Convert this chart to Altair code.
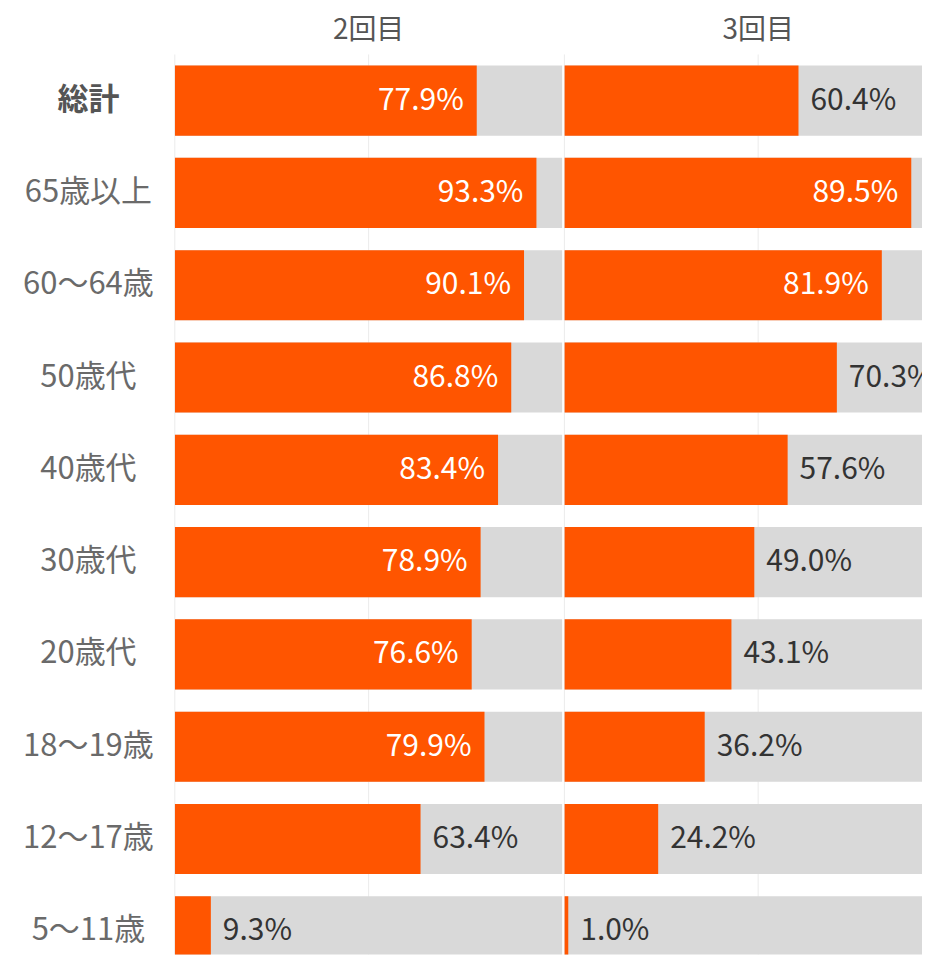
import altair as alt
import pandas as pd

categories = ["総計", "65歳以上", "60～64歳", "50歳代", "40歳代", "30歳代",
              "20歳代", "18～19歳", "12～17歳", "5～11歳"]
dose2 = [77.9, 93.3, 90.1, 86.8, 83.4, 78.9, 76.6, 79.9, 63.4, 9.3]
dose3 = [60.4, 89.5, 81.9, 70.3, 57.6, 49.0, 43.1, 36.2, 24.2, 1.0]
panel_titles = ["2回目", "3回目"]
grid_at = [0.0, 0.5]

ORANGE = "#FF5500"
GRAY = "#D9D9D9"
FONT = "Noto Sans CJK JP"
THRESH = 75
FS = 30
LFS = 31
H = 901


def panel(values, title, width, xmax, show_y, title_dx):
    df = pd.DataFrame({
        "cat": categories,
        "v": [x / 100 for x in values],
        "full": [1.0] * len(values),
        "label": [f"{x:.1f}%" for x in values],
        "inside": [x >= THRESH for x in values],
    })
    yaxis = alt.Axis(
        labelFontSize=LFS, labelFont=FONT, labelAlign="center", labelPadding=87,
        labelColor=alt.expr("datum.value === '総計' ? '#555555' : '#6a6a6a'"),
        labelFontWeight=alt.expr("datum.value === '総計' ? 'bold' : 'normal'"),
        ticks=False, domain=False, grid=False, title=None, labelLimit=300,
    ) if show_y else None
    y = alt.Y("cat:N", sort=categories, title=None,
              scale=alt.Scale(range=[0, 924], paddingInner=0.24, paddingOuter=0.12),
              axis=yaxis)
    xscale = alt.Scale(domain=[0, xmax], nice=False, zero=True)
    xaxis = alt.Axis(labels=False, ticks=False, domain=False, grid=False, title=None)
    grid = alt.Chart(pd.DataFrame({"g": grid_at})).mark_rule(
        color="#EBEBEB", strokeWidth=1).encode(
        x=alt.X("g:Q", scale=xscale, axis=xaxis), y=alt.value(0), y2=alt.value(H))
    base = alt.Chart(df)
    bg = base.mark_bar(color=GRAY, clip=True).encode(x=alt.X("full:Q"), y=y)
    fg = base.mark_bar(color=ORANGE, clip=True).encode(x=alt.X("v:Q"), y=y)
    tin = base.transform_filter("datum.inside").mark_text(
        align="right", baseline="middle", dx=-13, color="white", font=FONT,
        fontSize=FS, clip=True).encode(x="v:Q", y=y, text="label:N")
    tout = base.transform_filter("!datum.inside").mark_text(
        align="left", baseline="middle", dx=12, color="#333333", font=FONT,
        fontSize=FS, clip=True).encode(x="v:Q", y=y, text="label:N")
    return alt.layer(grid, bg, fg, tin, tout).properties(
        width=width, height=H,
        title=alt.TitleParams(title, fontSize=28, font=FONT, fontWeight="normal",
                              color="#555555", dx=title_dx, offset=9),
    )


p1 = panel(dose2, panel_titles[0], 388, 1.0, True, 0)
p2 = panel(dose3, panel_titles[1], 358, 358 / 388, False, 15)

chart = alt.hconcat(p1, p2, spacing=1).properties(
    padding={"left": 14, "top": 8, "right": 0, "bottom": 0}
).configure_view(stroke=None)

chart.save("out.html", embed_options={"renderer": "svg", "actions": False})
